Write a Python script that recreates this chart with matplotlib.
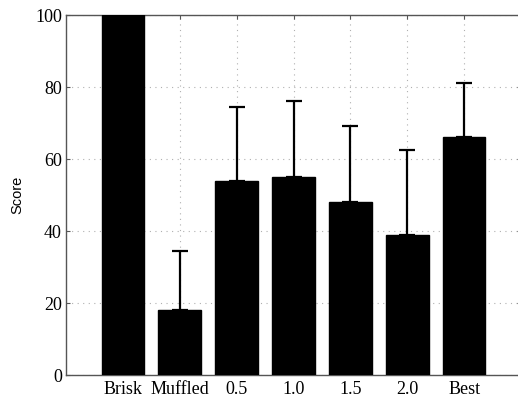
import numpy as np
import matplotlib.pyplot as plt

categories = ['Brisk', 'Muffled', '0.5', '1.0', '1.5', '2.0', 'Best']
scores = [100, 18, 54, 55, 48, 39, 66]
upper_err = [0, 16.5, 20.5, 21, 21.3, 23.5, 15]

plt.rcParams['font.family'] = ['Liberation Serif', 'DejaVu Serif']

fig = plt.figure(figsize=(5.18, 4.0), dpi=100)
ax = fig.add_axes([66 / 518, 25 / 400, 455 / 518, 360 / 400])

x = np.arange(1, len(categories) + 1)
ax.bar(x, scores, width=0.75, color='black', edgecolor='black', zorder=3)
err = np.array([np.zeros(len(upper_err)), upper_err])
mask = np.array(upper_err) > 0
ax.errorbar(x[mask], np.array(scores)[mask], yerr=err[:, mask], fmt='none',
            ecolor='black', elinewidth=1.6, capsize=6, capthick=1.6, zorder=4)

ax.set_xlim(0, 8)
ax.set_ylim(0, 100)
ax.set_xticks(x)
ax.set_xticklabels(categories)
ax.set_yticks([0, 20, 40, 60, 80, 100])
ax.tick_params(direction='in', length=3, labelsize=13, top=True, right=True,
               color='#555555')
ax.tick_params(axis='x', pad=4)
ax.tick_params(axis='y', pad=3)
ax.grid(True, linestyle=(0, (1, 4)), color='#b0b0b0', linewidth=0.8, zorder=0)
for s in ax.spines.values():
    s.set_color('#555555')
    s.set_linewidth(1.0)
ax.set_ylabel('Score', family='Liberation Sans', fontsize=10.5, labelpad=8)

fig.savefig('out.png', dpi=100)
